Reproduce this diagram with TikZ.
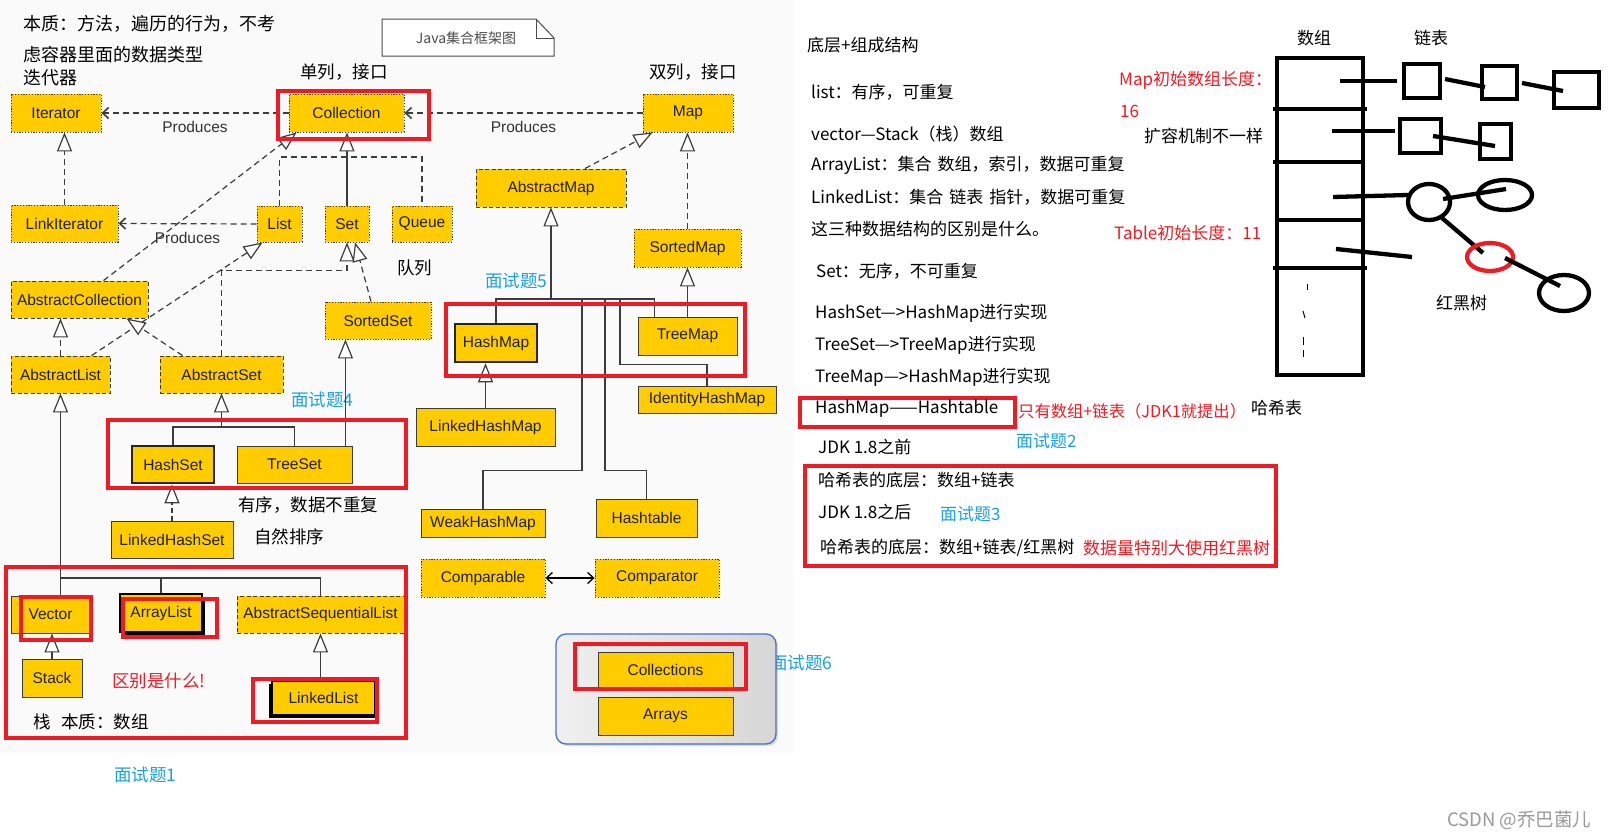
\documentclass[tikz,border=0pt]{standalone}
\usepackage{fontspec}
\setmainfont{Liberation Sans}
\newfontfamily\cjk{Noto Sans CJK SC}
\usetikzlibrary{arrows.meta,calc,shadows}
\definecolor{gold}{HTML}{FFCC00}
\definecolor{redm}{HTML}{ED1C24}
\definecolor{bluem}{HTML}{1BA1E2}
\definecolor{ln}{HTML}{3C3C3C}
\definecolor{cbord}{HTML}{4A6FC8}
\tikzset{
 bx/.style={draw=ln, fill=gold, inner sep=0pt, font=\fontsize{15.5}{16}\selectfont, text=black!88, line width=0.9pt},
 iface/.style={bx, dash pattern=on 1.2pt off 1.6pt},
 abst/.style={bx, dash pattern=on 4pt off 2.5pt},
 cls/.style={bx},
 heavy/.style={bx, line width=2.6pt, draw=black!85},
 shd/.style={bx, line width=1.8pt, draw=black, drop shadow={shadow xshift=3pt, shadow yshift=-3pt, fill=black, opacity=1}},
 conn/.style={draw=ln, line width=1.2pt},
 dsh/.style={conn, dash pattern=on 6pt off 4pt},
 tri/.style={-{Triangle[length=19pt,width=15pt,fill=white,line width=1.2pt]}},
 prod/.style={-{Straight Barb[length=6pt,width=11pt,line width=1.6pt]}},
 rbox/.style={draw=redm, line width=3.8pt},
 cn/.style={font=\cjk\fontsize{17.5}{20}\selectfont, inner sep=0pt, anchor=west},
 cnr/.style={font=\cjk\fontsize{17}{20}\selectfont, inner sep=0pt, anchor=west},
 cnl/.style={font=\cjk\fontsize{18}{20}\selectfont, inner sep=0pt, anchor=west},
 lbl/.style={font=\fontsize{15.5}{16}\selectfont, text=black!80, inner sep=0pt},
 ink/.style={line width=4.3pt, draw=black},
}
\begin{document}
\begin{tikzpicture}[x=1pt,y=-1pt]
\useasboundingbox (0,0) rectangle (1614,838);
\fill[white] (0,0) rectangle (1614,838);
\fill[black!2] (0,0) rectangle (793,753);

% ---------- texts left ----------
\node[cnl] (t1) at (23,24) {本质：方法，遍历的行为，不考};
\node[cnl] (t2) at (23,55) {虑容器里面的数据类型};
\node[cnl] (t3) at (23,78) {迭代器};
\node[cn] (t4) at (300,72) {单列，接口};
\node[cn] (t5) at (649,72) {双列，接口};
\node[cn] (t6) at (397,268) {队列};
\node[cn,text=bluem] (q5) at (485,281) {面试题5};
\node[cn,text=bluem] (q4) at (291,400) {面试题4};
\node[cn] (t7) at (238,505) {有序，数据不重复};
\node[cn] (t8) at (254,537) {自然排序};
\node[cn,text=redm] (t9) at (112,681) {区别是什么!};
\node[cn] (t10) at (33,722) {栈\hspace{0.6em}本质：数组};
\node[cn,text=bluem] (q1) at (114,775) {面试题1};
\node[cn,text=bluem] (q6) at (770,663) {面试题6};

% note
\draw[line width=1pt, draw=black!70, fill=white] (382,19) -- (536,19) -- (554,38) -- (554,56) -- (382,56) -- cycle;
\draw[line width=1pt, draw=black!70] (536,19) -- (536,38) -- (554,38);
\node[font=\cjk\fontsize{14}{16}\selectfont, text=black!70, inner sep=0pt] (note) at (466,38) {Java集合框架图};

% container
\node[draw=cbord, line width=1.3pt, rounded corners=10pt, left color=black!6, right color=black!16, drop shadow={shadow xshift=2pt, shadow yshift=-2pt, opacity=0.25}, minimum width=220pt, minimum height=110pt, inner sep=0pt] (utils) at (666,689) {};

% ---------- boxes ----------
\node[iface, minimum width=90pt, minimum height=38pt] (Iterator) at (56,113) {Iterator};
\node[iface, minimum width=115pt, minimum height=38pt] (Collection) at (346.5,113) {Collection};
\node[iface, minimum width=90pt, minimum height=38pt] (Map) at (688,113) {Map};
\node[iface, minimum width=107pt, minimum height=37pt] (LinkIterator) at (64.5,223.5) {LinkIterator};
\node[iface, minimum width=45pt, minimum height=36pt] (List) at (279.5,224) {List};
\node[iface, minimum width=44pt, minimum height=36pt] (Set) at (347,224) {Set};
\node[iface, minimum width=60pt, minimum height=36pt] (Queue) at (422,224) {Queue};
\node[abst, minimum width=150pt, minimum height=38pt] (AbstractMap) at (551,188) {AbstractMap};
\node[iface, minimum width=107pt, minimum height=38pt] (SortedMap) at (687.5,248) {SortedMap};
\node[abst, minimum width=137pt, minimum height=37pt] (AbstractCollection) at (79.5,299.5) {AbstractCollection};
\node[iface, minimum width=106pt, minimum height=37pt] (SortedSet) at (378,320.5) {SortedSet};
\node[abst, minimum width=99pt, minimum height=37pt] (AbstractList) at (60.5,374.5) {AbstractList};
\node[abst, minimum width=123pt, minimum height=37pt] (AbstractSet) at (221.5,374.5) {AbstractSet};
\node[heavy, minimum width=82pt, minimum height=37pt] (HashSet) at (173,464.5) {HashSet};
\node[cls, minimum width=115pt, minimum height=37pt] (TreeSet) at (294.5,464.5) {TreeSet};
\node[cls, minimum width=122pt, minimum height=37pt] (LinkedHashSet) at (172,539.5) {LinkedHashSet};
\node[heavy, minimum width=82pt, minimum height=38pt] (HashMap) at (496,343) {HashMap};
\node[cls, minimum width=99pt, minimum height=38pt] (TreeMap) at (687.5,336) {TreeMap};
\node[cls, minimum width=138pt, minimum height=27pt] (IdentityHashMap) at (707,399.5) {IdentityHashMap};
\node[cls, minimum width=139pt, minimum height=38pt] (LinkedHashMap) at (485.5,427) {LinkedHashMap};
\node[cls, minimum width=124pt, minimum height=28pt] (WeakHashMap) at (483,523) {WeakHashMap};
\node[cls, minimum width=101pt, minimum height=38pt] (Hashtable) at (646.5,518) {Hashtable};
\node[iface, minimum width=124pt, minimum height=38pt] (Comparable) at (483,578) {Comparable};
\node[iface, minimum width=124pt, minimum height=38pt] (Comparator) at (657,578) {Comparator};
\node[cls, minimum width=79pt, minimum height=37pt] (Vector) at (50.5,614.5) {Vector};
\node[shd, minimum width=82pt, minimum height=38pt] (ArrayList) at (161,613) {ArrayList};
\node[abst, minimum width=167pt, minimum height=37pt] (AbstractSequentialList) at (320.5,614.5) {AbstractSequentialList};
\node[cls, minimum width=60pt, minimum height=38pt] (Stack) at (52,678) {Stack};
\node[shd, minimum width=103pt, minimum height=34pt, drop shadow={shadow xshift=-3pt, shadow yshift=-3pt, fill=black, opacity=1}] (LinkedList) at (323.5,698) {LinkedList};
\node[cls, minimum width=135pt, minimum height=36pt] (Collections) at (665.5,670) {Collections};
\node[cls, minimum width=135pt, minimum height=38pt] (Arrays) at (665.5,716) {Arrays};

% ---------- connectors ----------
\draw[dsh,prod] (Collection.west) -- (Iterator.east) node[lbl,midway,below=8pt]{Produces};
\draw[dsh,prod] (Map.west) -- (Collection.east) node[lbl,midway,below=8pt]{Produces};
\draw[dsh,prod] (List.west) -- (LinkIterator.east) node[lbl,midway,below=8pt]{Produces};
\draw[dsh,tri] (LinkIterator.north) -- (LinkIterator.north |- Iterator.south);

\coordinate (jc) at (347,157);
\draw[dsh] (List.north) |- (Queue.north |- jc) -- (Queue.north);
\draw[conn,tri] (Set.north) -- (Set.north |- Collection.south);
\draw[dsh,tri] ($(AbstractCollection.north)+(24,0)$) -- ($(Collection.south west)+(8,0)$);
\draw[dsh,tri] ($(AbstractList.north)+(31,0)$) -- ($(List.south west)+(6,0)$);
\draw[dsh,tri] (AbstractSet.north) |- ($(Set.south)+(0,28)$) -- (Set.south);
\draw[dsh,tri] ($(SortedSet.north)+(-7,0)$) -- ($(Set.south)+(8,0)$);
\draw[dsh,tri] (AbstractList.north) -- (AbstractList.north |- AbstractCollection.south);
\draw[dsh,tri] ($(AbstractSet.north west)+(23,0)$) -- ($(AbstractCollection.south)+(47,0)$);

\coordinate (js) at (221.5,427);
\draw[conn] (HashSet.north) |- (js) -| (TreeSet.north);
\draw[conn,tri] (js) -- (AbstractSet.south);
\coordinate (tsr) at ($(TreeSet.north east)+(-7,0)$);
\draw[conn,tri] (tsr) -- (tsr |- SortedSet.south);
\draw[conn,dash pattern=on 5pt off 3pt,tri] (LinkedHashSet.north) -- (LinkedHashSet.north |- HashSet.south);

\coordinate (jl) at (60.5,578);
\draw[conn,tri] (jl) -- (AbstractList.south);
\draw[conn] (jl) -- (jl |- Vector.north);
\draw[conn] (jl) -| (ArrayList.north);
\draw[conn] (jl) -| (AbstractSequentialList.north);
\draw[conn,tri] (Stack.north) -- (Stack.north |- Vector.south);
\draw[conn,tri] (LinkedList.north -| AbstractSequentialList.south) -- (AbstractSequentialList.south);

\draw[dsh,tri] ($(AbstractMap.north)+(34,0)$) -- ($(Map.south west)+(10,0)$);
\draw[dsh,tri] (SortedMap.north) -- (SortedMap.north |- Map.south);
\coordinate (jm) at (551,299);
\draw[conn,tri] (jm) -- (AbstractMap.south);
\draw[conn] (HashMap.north) |- (jm) -| ($(TreeMap.north west)+(17,0)$);
\coordinate (jw) at (582,299);
\draw[conn] (jw) |- ($(WeakHashMap.north)+(0,-38)$) -- (WeakHashMap.north);
\coordinate (jh) at (605,299);
\draw[conn] (jh) |- ($(Hashtable.north)+(0,-28)$) -- (Hashtable.north);
\coordinate (ji) at (620,299);
\draw[conn] (ji) |- ($(IdentityHashMap.north)+(0,-21)$) -- (IdentityHashMap.north);
\draw[conn,tri] (TreeMap.north) -- (TreeMap.north |- SortedMap.south);
\draw[conn,tri] (LinkedHashMap.north) -- (LinkedHashMap.north |- HashMap.south);
\draw[line width=1.3pt, {Straight Barb[length=6pt,width=11pt]}-{Straight Barb[length=6pt,width=11pt]}] (Comparable.east) -- (Comparator.west);

% ---------- red boxes ----------
\draw[rbox] (278,91) rectangle (429,139);
\draw[rbox] (108,420) rectangle (406,488);
\draw[rbox] (6,567) rectangle (406,738);
\draw[rbox] (21,597) rectangle (91,640);
\draw[rbox] (123,599) rectangle (217,637);
\draw[rbox] (253,679) rectangle (377,722);
\draw[rbox] (446,304) rectangle (745,376);
\draw[rbox] (575,644) rectangle (746,689);
\draw[rbox] (800,398) rectangle (1015,427);
\draw[rbox] (805,466) rectangle (1276,566);

% ---------- right texts ----------
\node[cnr] (r1) at (807,45) {底层+组成结构};
\node[cnr] (r2) at (811,92) {list：有序，可重复};
\node[cnr] (r3) at (811,134) {vector—Stack（栈）数组};
\node[cnr] (r4) at (811,165) {ArrayList：集合\hspace{0.35em}数组，索引，数据可重复};
\node[cnr] (r5) at (811,197) {LinkedList：集合\hspace{0.35em}链表\hspace{0.35em}指针，数据可重复};
\node[cnr] (r6) at (811,229) {这三种数据结构的区别是什么。};
\node[cnr] (r7) at (816,271) {Set：无序，不可重复};
\node[cnr] (r8) at (815,313) {HashSet—>HashMap进行实现};
\node[cnr] (r9) at (815,345) {TreeSet—>TreeMap进行实现};
\node[cnr] (r10) at (815,377) {TreeMap—>HashMap进行实现};
\node[cnr] (r11) at (815,409) {HashMap——Hashtable};
\node[cnr,text=redm,font=\cjk\fontsize{16.3}{20}\selectfont] (r12) at (1018,411) {只有数组+链表（JDK1就提出）};
\node[cnr] (r13) at (1251,408) {哈希表};
\node[cnr] (r14) at (818,447) {JDK 1.8之前};
\node[cnr,text=bluem] (q2) at (1016,441) {面试题2};
\node[cnr] (r15) at (818,480) {哈希表的底层：数组+链表};
\node[cnr] (r16) at (818,512) {JDK 1.8之后};
\node[cnr,text=bluem] (q3) at (940,514) {面试题3};
\node[cnr] (r17) at (820,548) {哈希表的底层：数组+链表/红黑树};
\node[cnr,text=redm] (r18) at (1083,548) {数据量特别大使用红黑树};
\node[cnr,text=redm] (r19) at (1119,80) {Map初始数组长度：};
\node[cnr,text=redm] (r20) at (1120,111) {16};
\node[cnr] (r21) at (1144,136) {扩容机制不一样};
\node[cnr,text=redm] (r22) at (1114,233) {Table初始长度：11};
\node[cnr] (r23) at (1297,38) {数组};
\node[cnr] (r24) at (1414,38) {链表};
\node[cnr] (r25) at (1436,303) {红黑树};
\node[cnr,text=black!40,font=\cjk\fontsize{18.5}{20}\selectfont] (wm) at (1447,820) {CSDN @乔巴菌儿};

% ---------- sketch ----------
\draw[ink] (1277,58) rectangle (1363,375);
\draw[ink] (1273,109) -- (1367,109);
\draw[ink] (1273,162) -- (1365,162);
\draw[ink] (1275,220) -- (1365,220);
\draw[ink] (1273,268) -- (1367,268);
\draw[ink] (1340,81) -- (1397,81);
\draw[ink] (1332,131) -- (1395,131);
\draw[ink] (1333,197) -- (1408,195);
\draw[ink] (1336,249) -- (1412,257);
\draw[ink] (1404,64) rectangle (1440,98);
\draw[ink] (1482,66) rectangle (1517,99);
\draw[ink] (1554,72) rectangle (1599,108);
\draw[ink] (1445,79) -- (1485,87);
\draw[ink] (1522,83) -- (1563,91);
\draw[ink] (1400,119) rectangle (1441,153);
\draw[ink] (1480,124) rectangle (1511,159);
\draw[ink] (1433,136) -- (1495,146);
\draw[ink] (1429,202) ellipse [x radius=21, y radius=18];
\draw[ink] (1443,199) -- (1506,189);
\draw[ink] (1505,195) ellipse [x radius=27, y radius=15];
\draw[ink] (1442,218) -- (1483,253);
\draw[ink,draw=redm] (1490,257) ellipse [x radius=23, y radius=14];
\draw[ink] (1505,258) -- (1560,286);
\draw[ink] (1564,293) ellipse [x radius=25, y radius=18];
\draw[line width=1pt] (1307,284) -- (1307,290);
\draw[line width=1pt] (1303,311) -- (1305,318);
\draw[line width=1pt] (1303,337) -- (1303,345);
\draw[line width=1pt] (1303,350) -- (1303,357);
\end{tikzpicture}
\end{document}
